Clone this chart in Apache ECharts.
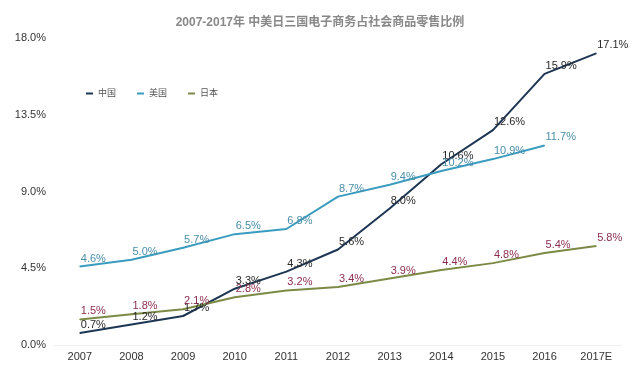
<!DOCTYPE html>
<html><head><meta charset="utf-8">
<script src="https://cdn.jsdelivr.net/npm/echarts@6/dist/echarts.min.js"></script>
<style>html,body{margin:0;padding:0;background:#fff}#c{width:640px;height:368px}</style>
</head><body><div id="c"></div>
<script>
const title = '2007-2017年 中美日三国电子商务占社会商品零售比例';
const categories = ['2007','2008','2009','2010','2011','2012','2013','2014','2015','2016','2017E'];
const china = [0.7,1.2,1.7,3.3,4.3,5.6,8.0,10.6,12.6,15.9,17.1];
const usa = [4.6,5.0,5.7,6.5,6.8,8.7,9.4,10.2,10.9,11.7,null];
const japan = [1.5,1.8,2.1,2.8,3.2,3.4,3.9,4.4,4.8,5.4,5.8];
const seriesNames = ['中国','美国','日本'];

const font = 'Liberation Sans, Noto Sans CJK SC, sans-serif';
function mk(name, data, color, labelColor) {
  return {
    name, type: 'line', data, smooth: false,
    symbol: 'circle', symbolSize: 1, showSymbol: true,
    itemStyle: { color },
    lineStyle: { color, width: 2 },
    connectNulls: false,
    label: {
      show: true, position: 'top', distance: 2, align: 'left', offset: [1, 0],
      color: labelColor, fontSize: 11, fontFamily: font,
      formatter: p => p.value == null ? '' : p.value.toFixed(1) + '%'
    },
    emphasis: { disabled: true }
  };
}
const chart = echarts.init(document.getElementById('c'));
chart.setOption({
  animation: false,
  backgroundColor: '#fff',
  title: { text: title, left: 'center', top: 12,
    textStyle: { color: '#888', fontSize: 12, fontWeight: 'bold', fontFamily: font } },
  legend: { left: 86, top: 89, padding: 0, itemWidth: 7, itemHeight: 2, itemGap: 21, icon: 'rect',
    data: seriesNames, textStyle: { fontSize: 9, color: '#555', fontFamily: font } },
  grid: { left: 54, right: 18, top: 38, bottom: 23, containLabel: false },
  xAxis: { type: 'category', data: categories, boundaryGap: true,
    axisLine: { show: true, lineStyle: { color: '#f0f0f0' } }, axisTick: { show: false },
    axisLabel: { color: '#333', fontSize: 11, margin: 6, fontFamily: font } },
  yAxis: { type: 'value', min: 0, max: 18, interval: 4.5,
    splitLine: { show: false }, axisLine: { show: false }, axisTick: { show: false },
    axisLabel: { color: '#333', fontSize: 11, margin: 8, fontFamily: font,
      formatter: v => v.toFixed(1) + '%' } },
  series: [
    mk('中国', china, '#1d3654', '#2a2a2a'),
    mk('美国', usa, '#3a9cbf', '#4a8ea8'),
    mk('日本', japan, '#7b8a45', '#8c2f4f')
  ]
});
</script></body></html>
